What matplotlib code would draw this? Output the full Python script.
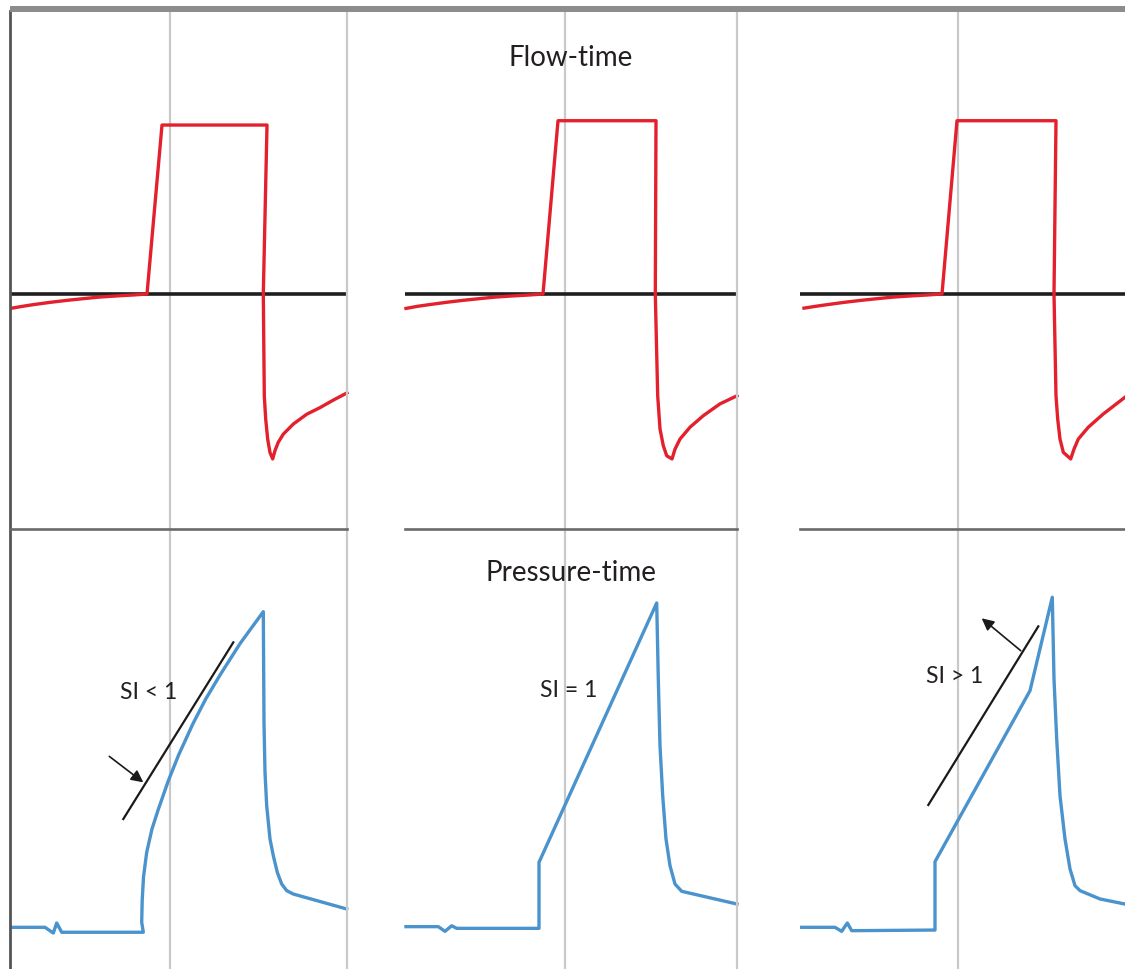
import matplotlib
matplotlib.use("Agg")
import matplotlib.pyplot as plt
from matplotlib.lines import Line2D

# ---------------- data (time in s, flow in L/min, pressure in cmH2O) ----------------
# Flow-time curves, one per column
flow_t1 = [0.02, 0.12, 0.23, 0.40, 0.57, 0.75, 0.90, 1.10, 1.23, 1.37, 1.52, 2.57, 2.533,
           2.543, 2.557, 2.577, 2.60, 2.627, 2.65, 2.683, 2.733, 2.833, 2.967, 3.10, 3.233, 3.37]
flow_v1 = [-4.9, -4.3, -3.7, -2.9, -2.2, -1.55, -1.05, -0.6, -0.35, 0.0, 58.6, 58.6, 0.0,
           -35.3, -43.4, -50.4, -55.0, -57.2, -54.3, -51.4, -48.6, -45.1, -41.7, -39.4, -36.8, -34.3]

flow_t2 = [0.01, 0.12, 0.24, 0.41, 0.58, 0.76, 0.91, 1.11, 1.24, 1.38, 1.53, 2.51, 2.503,
           2.527, 2.55, 2.583, 2.617, 2.67, 2.70, 2.75, 2.85, 2.983, 3.15, 3.32]
flow_v2 = [-5.0, -4.3, -3.7, -2.9, -2.2, -1.55, -1.05, -0.6, -0.35, 0.0, 60.1, 60.1, 0.0,
           -35.3, -46.8, -52.6, -56.1, -57.2, -53.8, -50.3, -46.2, -42.2, -38.1, -35.3]

flow_t3 = [0.04, 0.15, 0.27, 0.44, 0.61, 0.79, 0.94, 1.14, 1.27, 1.42, 1.57, 2.56, 2.54,
           2.56, 2.577, 2.60, 2.633, 2.707, 2.74, 2.783, 2.883, 3.033, 3.25]
flow_v3 = [-4.9, -4.3, -3.7, -2.9, -2.2, -1.55, -1.05, -0.6, -0.35, 0.0, 60.1, 60.1, 0.0,
           -35.3, -43.4, -50.3, -54.9, -57.2, -53.8, -50.3, -46.2, -41.6, -35.8]

# Pressure-time curves, one per column
pres_t1 = [0.017, 0.35, 0.433, 0.467, 0.517, 1.333, 1.317, 1.322, 1.335, 1.367, 1.42, 1.483,
           1.583, 1.687, 1.83, 1.957, 2.107, 2.30, 2.533, 2.54, 2.55, 2.567, 2.60, 2.633,
           2.673, 2.717, 2.767, 2.833, 3.367]
pres_v1 = [5.13, 5.13, 4.69, 5.46, 4.75, 4.75, 5.52, 7.2, 9.0, 10.9, 12.7, 14.2,
           16.4, 18.4, 20.8, 22.69, 24.62, 26.95, 29.41, 20.90, 17.05, 14.48, 11.92, 10.64,
           9.36, 8.46, 7.95, 7.69, 6.54]

pres_t2 = [0.01, 0.333, 0.40, 0.467, 0.517, 1.34, 1.34, 2.517, 2.533, 2.55, 2.577, 2.61,
           2.65, 2.70, 2.767, 3.32]
pres_v2 = [5.18, 5.18, 4.82, 5.25, 5.05, 5.05, 10.13, 30.08, 24.23, 19.10, 15.25, 11.92,
           9.87, 8.46, 7.90, 6.92]

pres_t3 = [0.017, 0.35, 0.417, 0.473, 0.517, 1.35, 1.35, 2.30, 2.523, 2.54, 2.567, 2.60,
           2.65, 2.70, 2.75, 2.80, 3.00, 3.25]
pres_v3 = [5.13, 5.13, 4.82, 5.46, 4.87, 4.92, 10.18, 23.33, 30.52, 24.23, 19.62, 15.25,
           11.92, 9.62, 8.33, 7.95, 7.31, 6.92]

# Tangent (stress-index) guide lines: (t_start, t_end), (p_start, p_end)
tangent_t = {0: [1.133, 2.233], 2: [1.283, 2.383]}
tangent_p = {0: [13.46, 27.05], 2: [14.54, 28.28]}
# Arrows: tail -> head
arrow_tail = {0: (0.993, 18.28), 2: (2.207, 26.41)}
arrow_head = {0: (1.333, 16.28), 2: (1.817, 28.90)}

si_labels = ["SI < 1", "SI = 1", "SI > 1"]
si_pos = [(1.39, 23.3), (1.637, 23.4), (1.55, 24.5)]
flow_title = "Flow-time"
pres_title = "Pressure-time"

guide_t = [1.60, 1.60, 1.58]      # vertical reference line time per column

# ---------------- styling / layout ----------------
W, H = 1125, 970
RED = "#e3202c"
BLUE = "#4a93cc"
GRID = "#c9c9c9"
TXT = "#231f20"
FONT = ["Lato", "DejaVu Sans"]

col_px = [(10, 347), (405, 737), (800, 1125)]
top_row = (12, 530)
bot_row = (530, 970)
flow_lim = (-81.5, 98.15)
pres_lim = (1.923, 35.77)

fig = plt.figure(figsize=(W / 100, H / 100), dpi=100)
fig.patch.set_facecolor("white")

flows = [(flow_t1, flow_v1), (flow_t2, flow_v2), (flow_t3, flow_v3)]
press = [(pres_t1, pres_v1), (pres_t2, pres_v2), (pres_t3, pres_v3)]


def make_ax(xr, yr):
    ax = fig.add_axes([xr[0] / W, 1 - yr[1] / H, (xr[1] - xr[0]) / W, (yr[1] - yr[0]) / H])
    ax.set_xticks([])
    ax.set_yticks([])
    for s in ax.spines.values():
        s.set_visible(False)
    ax.patch.set_alpha(0)
    return ax


for c in range(3):
    xr = col_px[c]
    span = (xr[1] - xr[0]) / 100.0
    # ---- flow row
    axf = make_ax(xr, top_row)
    axf.set_xlim(0, span)
    axf.set_ylim(*flow_lim)
    axf.axvline(guide_t[c], color=GRID, lw=1.6, zorder=0)
    axf.axhline(0, color="#1e1e1e", lw=2.6, zorder=1)
    axf.plot(flows[c][0], flows[c][1], color=RED, lw=2.4, zorder=2,
             solid_joinstyle="round", clip_on=False)
    # ---- pressure row
    axp = make_ax(xr, bot_row)
    axp.set_xlim(0, span)
    axp.set_ylim(*pres_lim)
    axp.axvline(guide_t[c], color=GRID, lw=1.6, zorder=0)
    axp.plot(press[c][0], press[c][1], color=BLUE, lw=2.4, zorder=2,
             solid_joinstyle="round", clip_on=False)
    axp.spines["top"].set_visible(True)
    axp.spines["top"].set_color("#6a6a6a")
    axp.spines["top"].set_linewidth(1.9)

    if c < 2:
        for ax in (axf, axp):
            ax.spines["right"].set_visible(True)
            ax.spines["right"].set_color(GRID)
            ax.spines["right"].set_linewidth(1.6)
    if c == 0:
        for ax in (axf, axp):
            ax.spines["left"].set_visible(True)
            ax.spines["left"].set_color("#555555")
            ax.spines["left"].set_linewidth(2.0)

    if c in tangent_t:
        axp.plot(tangent_t[c], tangent_p[c], color="#1a1a1a", lw=1.6, zorder=3)
        axp.annotate("", xy=arrow_head[c], xytext=arrow_tail[c],
                     arrowprops=dict(arrowstyle="-|>", color="#1a1a1a", lw=1.2,
                                     mutation_scale=18, shrinkA=0, shrinkB=0), zorder=4)

    axp.text(si_pos[c][0], si_pos[c][1], si_labels[c], ha="center", va="center",
             fontsize=16.5, color=TXT, family=FONT, zorder=5)

    if c == 1:
        axf.text(1.66, 82.2, flow_title, ha="center", va="center", fontsize=20,
                 color=TXT, family=FONT, zorder=5)
        axp.text(1.66, 32.46, pres_title, ha="center", va="center", fontsize=20,
                 color=TXT, family=FONT, zorder=5)

# top border line
fig.add_artist(Line2D([10 / W, 1.0], [1 - 9.7 / H, 1 - 9.7 / H], transform=fig.transFigure,
                      color="#8c8c8c", lw=4.3, solid_capstyle="butt"))

fig.savefig("out.png", dpi=100, facecolor="white")
